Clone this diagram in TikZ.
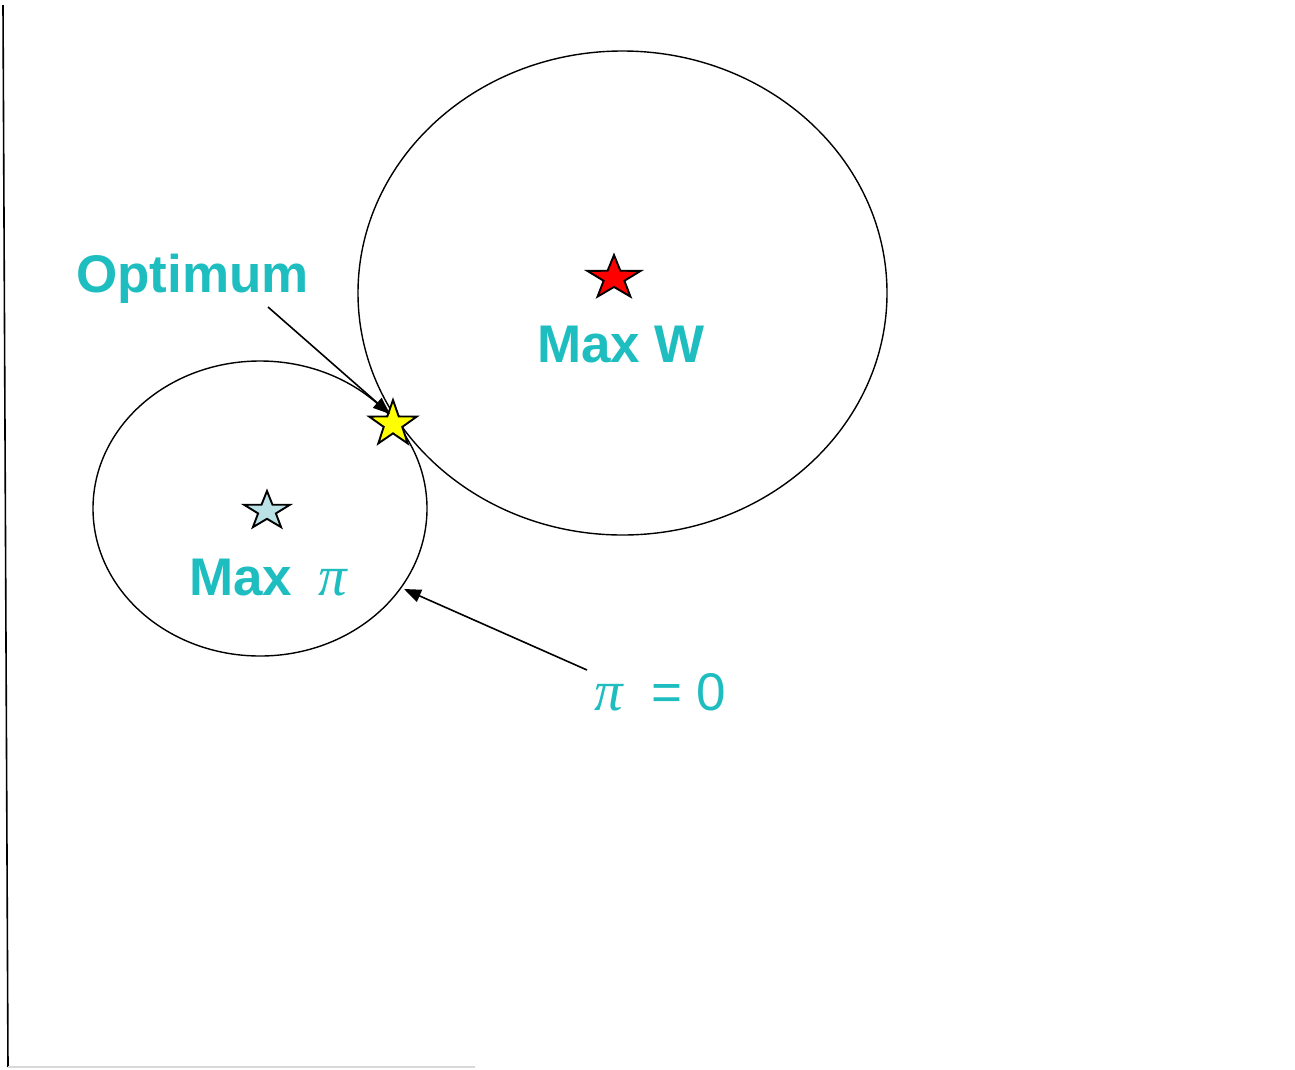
\documentclass[tikz,border=0pt]{standalone}
\usepackage{fontspec}
\setmainfont{Liberation Sans}
\newfontfamily\pifont{Liberation Serif}
\usetikzlibrary{shapes.geometric,arrows.meta}
\definecolor{lbl}{RGB}{30,190,192}
\definecolor{paleblue}{RGB}{185,225,230}
\definecolor{starred}{RGB}{255,0,0}
\definecolor{staryellow}{RGB}{255,255,0}
\newcommand\mystar[4]{%
  \draw[starline, fill=#4, shift={(#1)}, xscale=#2, yscale=#3]
    (90:1pt) -- (126:.39pt) -- (162:1pt) -- (198:.39pt) -- (234:1pt) --
    (270:.39pt) -- (306:1pt) -- (342:.39pt) -- (18:1pt) -- (54:.39pt) -- cycle;}
\begin{document}
\begin{tikzpicture}[x=1pt,y=-1pt,
  oval/.style={ellipse, draw=black, line width=1.4pt, inner sep=0pt},
  starline/.style={draw=black, line width=1.9pt, line join=miter},
  arr/.style={draw=black, line width=1.6pt, -{Triangle[length=17pt,width=13pt]}},
  lab/.style={text=lbl, inner sep=0pt, anchor=base west, font=\fontsize{53}{60}\selectfont\bfseries},
  labr/.style={text=lbl, inner sep=0pt, anchor=base west, font=\fontsize{53}{60}\selectfont},
  pilab/.style={text=lbl, inner sep=0pt, anchor=base west, font=\fontsize{57}{60}\selectfont\pifont\itshape}]
\useasboundingbox (0,0) rectangle (1295,1069);
\fill[white] (0,0) rectangle (1295,1069);
% axes
\coordinate (axtop) at (3,5);
\coordinate (axorig) at (8,1067);
\coordinate (axright) at (475,1067);
\draw[black, line width=1.6pt] (axtop) -- (axorig);
\draw[black!15, line width=1.6pt] (axorig) -- (axright);
% ellipses
\node[oval, minimum width=529pt, minimum height=484pt] (bigE) at (622.5,293) {};
\node[oval, minimum width=334pt, minimum height=295pt] (smallE) at (260,508.5) {};
% stars
\coordinate (redS) at (614,278);
\coordinate (blueS) at (267,511);
\coordinate (yellowS) at (393,424);
\mystar{redS}{28}{23}{starred}
\mystar{blueS}{24}{20}{paleblue}
\mystar{yellowS}{25}{24}{staryellow}
% labels
\node[lab] (opt) at (76,292) {Optimum};
\node[lab] (maxW) at (537,362) {Max W};
\node[lab] (maxP) at (189,595) {Max};
\node[pilab] (maxPi) at (318,595) {π};
\node[pilab] (zPi) at (594,710) {π};
\node[labr] (zEq) at (651,710) {= 0};
% arrows
\coordinate (optStart) at (268,307);
\coordinate (optTip) at (390,414);
\coordinate (zStart) at (587,670);
\coordinate (zTip) at (404,589);
\draw[arr] (optStart) -- (optTip);
\draw[arr] (zStart) -- (zTip);
\end{tikzpicture}
\end{document}
